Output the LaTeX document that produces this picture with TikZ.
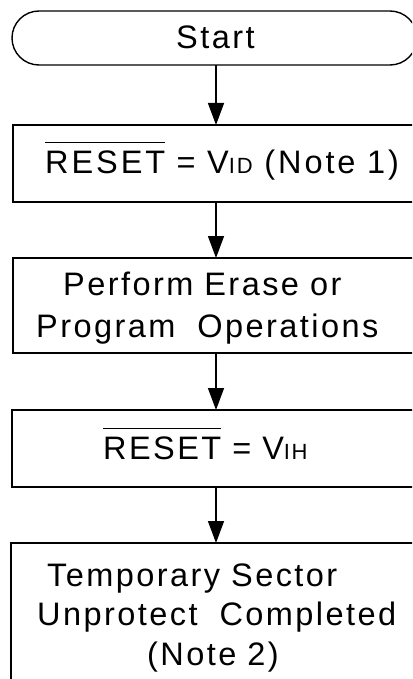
\documentclass[tikz,border=0pt]{standalone}
\usepackage{fontspec}
\setmainfont{Liberation Sans}[LetterSpace=7.5]
\usetikzlibrary{arrows.meta,shapes.misc}
\newcommand\ovr[1]{\vbox{\hrule height 1.3pt\kern 7pt\hbox{#1}}}
\newcommand\subsm[1]{{\fontsize{22}{22}\selectfont #1}}
\newcommand\tfont{\fontsize{32.5}{32.5}\selectfont\spaceskip=11pt\relax}
\begin{document}
\begin{tikzpicture}[x=1pt,y=-1pt,
  box/.style={draw,line width=1.4pt,rectangle,inner sep=0pt,outer sep=0pt},
  term/.style={draw,line width=1.4pt,rounded rectangle,inner sep=0pt,outer sep=0pt},
  txt/.style={inner sep=0pt,anchor=base west,font=\tfont},
  arr/.style={line width=1.4pt,-{Triangle[length=22pt,width=16pt]}}]
\useasboundingbox (0,0) rectangle (412,679);
\clip (0,0) rectangle (412,679);
\coordinate (ax) at (216,0);
\node[term,minimum width=405pt,minimum height=54pt] (start) at (214.5,38) {};
\node[box,minimum width=408pt,minimum height=77pt] (b2) at (217,163.5) {};
\node[box,minimum width=408pt,minimum height=95pt] (b3) at (217,305.5) {};
\node[box,minimum width=409pt,minimum height=77pt] (b4) at (216.5,448.5) {};
\node[box,minimum width=410pt,minimum height=177pt] (b5) at (216,631.5) {};
\node[txt] (t1) at (176,49) {Start};
\node[txt] (t2) at (45,173) {\addfontfeature{LetterSpace=9}\spaceskip=11.5pt\relax\ovr{RESET} = V\subsm{ID} (Note 1)};
\node[txt] (t3a) at (63,295) {Perform Erase or};
\node[txt] (t3b) at (36,337) {Program\ \ Operations};
\node[txt] (t4) at (103,459) {\ovr{RESET} = V\subsm{IH}};
\node[txt] (t5a) at (47,586) {Temporary Sector};
\node[txt] (t5b) at (37,625) {Unprotect\ \ Completed};
\node[txt] (t5c) at (147,665) {(Note 2)};
\draw[arr] (start.south -| ax) -- (b2.north -| ax);
\draw[arr] (b2.south -| ax) -- (b3.north -| ax);
\draw[arr] (b3.south -| ax) -- (b4.north -| ax);
\draw[arr] (b4.south -| ax) -- (b5.north -| ax);
\end{tikzpicture}
\end{document}
